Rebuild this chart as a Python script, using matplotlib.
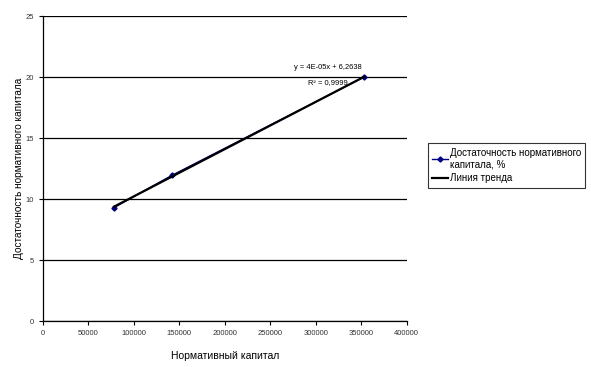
import numpy as np
import matplotlib
matplotlib.use('Agg')
import matplotlib.pyplot as plt

# ── Data ──────────────────────────────────────────────────────────────────────
capital  = [78350, 141800, 353400]        # нормативный капитал
adequacy = [9.29, 11.93, 20.0]            # достаточность, %
eq_text  = 'y = 4E-05x + 6,2638'
r2_text  = 'R² = 0,9999'
x_ticks  = [0, 50000, 100000, 150000, 200000, 250000, 300000, 350000, 400000]
y_ticks  = [0, 5, 10, 15, 20, 25]

plt.rcParams['font.family'] = ['Liberation Sans', 'DejaVu Sans']

fig = plt.figure(figsize=(5.91, 3.67), dpi=100)
ax = fig.add_axes([0.0722, 0.1253, 0.6158, 0.8311])

# series + linear trend
slope, icpt = np.polyfit(capital, adequacy, 1)
xt = np.array([min(capital), max(capital)])
ax.plot(capital, adequacy, color='#000080', lw=1, marker='D', ms=2.6,
        label='Достаточность нормативного\nкапитала, %', zorder=3)
ax.plot(xt, slope * xt + icpt, color='black', lw=1.6,
        label='Линия тренда', zorder=4)

ax.set_xlim(0, 400000)
ax.set_ylim(0, 25)
ax.set_xticks(x_ticks)
ax.set_yticks(y_ticks)
ax.tick_params(labelsize=5.5, length=3, width=0.8, colors='black',
               labelcolor='#333333')
ax.yaxis.grid(True, color='black', lw=0.9)
ax.set_axisbelow(True)
for s in ['top', 'right']:
    ax.spines[s].set_visible(False)
for s in ['left', 'bottom']:
    ax.spines[s].set_linewidth(0.9)

ax.set_xlabel('Нормативный капитал', fontsize=7.5, labelpad=10)
ax.set_ylabel('Достаточность нормативного капитала', fontsize=7.2)
ax.yaxis.set_label_coords(-0.05, 0.5)

ax.text(313500, 20.74, eq_text, fontsize=5.4, ha='center', va='center')
ax.text(313500, 19.55, r2_text, fontsize=5.4, ha='center', va='center')

leg = fig.legend(loc='upper left', bbox_to_anchor=(0.724, 0.61),
                 fontsize=7, frameon=True, fancybox=False,
                 edgecolor='black', handlelength=1.6, handletextpad=0.2,
                 borderpad=0.45, labelspacing=0.45, borderaxespad=0)
leg.get_frame().set_linewidth(0.8)

fig.savefig('out.png', dpi=100)
